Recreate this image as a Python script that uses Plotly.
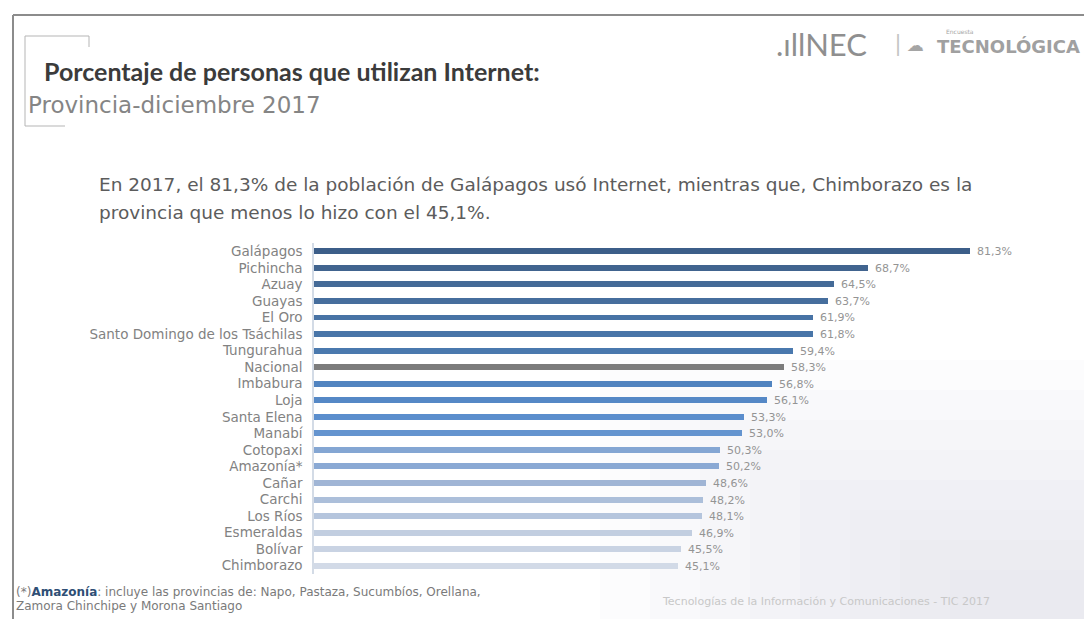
import plotly.graph_objects as go

# Internet use by province, December 2017 (%)
provincias = [
    "Galápagos", "Pichincha", "Azuay", "Guayas", "El Oro",
    "Santo Domingo de los Tsáchilas", "Tungurahua", "Nacional", "Imbabura", "Loja",
    "Santa Elena", "Manabí", "Cotopaxi", "Amazonía*", "Cañar",
    "Carchi", "Los Ríos", "Esmeraldas", "Bolívar", "Chimborazo",
]
porcentajes = [
    81.3, 68.7, 64.5, 63.7, 61.9,
    61.8, 59.4, 58.3, 56.8, 56.1,
    53.3, 53.0, 50.3, 50.2, 48.6,
    48.2, 48.1, 46.9, 45.5, 45.1,
]
colores = [
    "#3c5e89", "#41648f", "#446a97", "#466e9d", "#4873a5",
    "#4875a8", "#4a79ae", "#7c7c7c", "#5184c0", "#5588c6",
    "#5b8ecd", "#6494cf", "#84a6d3", "#8aa9d4", "#a0b5d5",
    "#acbfda", "#b5c5dd", "#c2cee0", "#c9d3e3", "#d2dae7",
]
etiquetas = [f"{v:.1f}%".replace(".", ",") for v in porcentajes]

W, H = 1084, 619
L, R, T, B = 314, 1040, 243, 574  # plot box in pixels


def px(x):
    return (x - L) / (R - L)


def py(y):
    return (B - y) / (B - T)


wide = "DejaVu Sans, Verdana, sans-serif"
heading = "Lato, Noto Sans, DejaVu Sans, sans-serif"

fig = go.Figure(
    go.Bar(
        x=porcentajes,
        y=provincias,
        orientation="h",
        width=0.36,
        marker=dict(color=colores, line=dict(width=0)),
        text=etiquetas,
        texttemplate="\u00a0\u00a0%{text}",
        textposition="outside",
        constraintext="none",
        textfont=dict(family=wide, size=11, color="#949494"),
        cliponaxis=False,
        hoverinfo="skip",
    )
)

shapes = [
    # slide frame
    dict(type="line", xref="paper", yref="paper", x0=px(13), x1=px(W), y0=py(15), y1=py(15),
         line=dict(color="#8c8c8c", width=2)),
    dict(type="line", xref="paper", yref="paper", x0=px(13), x1=px(13), y0=py(15), y1=py(H),
         line=dict(color="#8c8c8c", width=2)),
    # title bracket
    dict(type="line", xref="paper", yref="paper", x0=px(25), x1=px(89), y0=py(36), y1=py(36),
         line=dict(color="#b5b5b5", width=1)),
    dict(type="line", xref="paper", yref="paper", x0=px(89), x1=px(89), y0=py(36), y1=py(47),
         line=dict(color="#b5b5b5", width=1)),
    dict(type="line", xref="paper", yref="paper", x0=px(25), x1=px(25), y0=py(36), y1=py(126),
         line=dict(color="#b5b5b5", width=1)),
    dict(type="line", xref="paper", yref="paper", x0=px(25), x1=px(65), y0=py(126), y1=py(126),
         line=dict(color="#b5b5b5", width=1)),
]
# soft grey sheen towards the lower right corner
for i in range(8):
    shapes.append(dict(
        type="rect", xref="paper", yref="paper",
        x0=px(600 + i * 50), x1=px(W), y0=py(360 + i * 30), y1=py(H),
        fillcolor="rgba(215,218,224,0.07)", line=dict(width=0), layer="below",
    ))

annotations = [
    dict(text="<b>Porcentaje de personas que utilizan Internet:</b>", x=px(42), y=py(71),
         font=dict(family=heading, size=25, color="#3b3b3b")),
    dict(text="Provincia-diciembre 2017", x=px(26), y=py(105),
         font=dict(family=wide, size=23, color="#858585")),
    dict(text="En 2017, el 81,3% de la población de Galápagos usó Internet, mientras que, Chimborazo es la",
         x=px(97), y=py(185), font=dict(family=wide, size=18.5, color="#5c5c5c")),
    dict(text="provincia que menos lo hizo con el 45,1%.", x=px(97), y=py(212),
         font=dict(family=wide, size=18.5, color="#5c5c5c")),
    dict(text=".ıllNEC", x=px(774), y=py(44),
         font=dict(family=heading, size=31, color="#8f8f8f")),
    dict(text="|", x=px(893), y=py(43),
         font=dict(family=heading, size=24, color="#c4c4c4")),
    dict(text="☁", x=px(905), y=py(45),
         font=dict(family="DejaVu Sans", size=17, color="#a5a5a5")),
    dict(text="Encuesta", x=px(944), y=py(31),
         font=dict(family=wide, size=6, color="#a5a5a5")),
    dict(text="<b>TECNOLÓGICA</b>", x=px(935), y=py(46),
         font=dict(family=wide, size=18, color="#a0a0a0")),
    dict(text="(*)<b><span style='color:#2f4f75'>Amazonía</span></b>: incluye las provincias de: Napo, Pastaza, Sucumbíos, Orellana,",
         x=px(14), y=py(592), font=dict(family=wide, size=12, color="#7a7a7a")),
    dict(text="Zamora Chinchipe y Morona Santiago", x=px(14), y=py(606),
         font=dict(family=wide, size=12, color="#7a7a7a")),
    dict(text="Tecnologías de la Información y Comunicaciones - TIC 2017", x=px(660), y=py(601),
         font=dict(family=wide, size=11, color="#c8c8c8")),
]
for a in annotations:
    a.update(xref="paper", yref="paper", xanchor="left", yanchor="middle", showarrow=False)

fig.update_layout(
    width=W,
    height=H,
    autosize=False,
    margin=dict(l=L, r=W - R, t=T, b=H - B, pad=0),
    paper_bgcolor="#ffffff",
    plot_bgcolor="rgba(0,0,0,0)",
    showlegend=False,
    bargap=0,
    shapes=shapes,
    annotations=annotations,
    xaxis=dict(range=[0, 90], visible=False, fixedrange=True),
    yaxis=dict(
        categoryorder="array",
        categoryarray=provincias,
        autorange=False,
        range=[19.5, -0.5],
        showgrid=False,
        zeroline=False,
        showline=True,
        linecolor="#d3dbe6",
        linewidth=1.5,
        ticks="",
        ticklabelstandoff=7,
        tickfont=dict(family=wide, size=13.5, color="#828282"),
        fixedrange=True,
    ),
)

fig.write_html("out.html")
